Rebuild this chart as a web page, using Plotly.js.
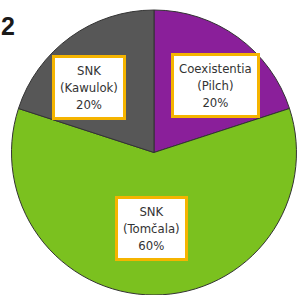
<!DOCTYPE html>
<html>
<head>
<meta charset="utf-8">
<script src="https://cdn.plot.ly/plotly-3.0.1.min.js"></script>
<style>html,body{margin:0;padding:0;background:#fff;}#chart{width:299px;height:295px;}</style>
</head>
<body>
<div id="chart"></div>
<script>
const categories = ["Coexistentia (Pilch)", "SNK (Tomčala)", "SNK (Kawulok)"];
const labelLines = [["Coexistentia", "(Pilch)"], ["SNK", "(Tomčala)"], ["SNK", "(Kawulok)"]];
const shares = [20, 60, 20];
const sliceColors = ["#8A1F9A", "#7BC11F", "#575757"];
const panelLabel = "2";

// label box centers (paper coords)
const labelPos = [[0.720, 0.710], [0.508, 0.225], [0.298, 0.705]];

const annotations = categories.map((c, i) => ({
  xref: "paper", yref: "paper",
  x: labelPos[i][0], y: labelPos[i][1],
  xanchor: "center", yanchor: "middle",
  showarrow: false,
  align: "center",
  text: labelLines[i].join("<br>") + "<br>" + shares[i] + "%",
  font: {family: "DejaVu Sans Condensed, DejaVu Sans", size: 13, color: "#333333"},
  bgcolor: "#FFFFFF",
  bordercolor: "#F5B400",
  borderwidth: 3,
  borderpad: 5
}));
annotations.push({
  xref: "paper", yref: "paper", x: -0.005, y: 0.912,
  xanchor: "left", yanchor: "middle", showarrow: false,
  text: "<b>" + panelLabel + "</b>",
  font: {family: "Liberation Sans", size: 25, color: "#1a1a1a"}
});

Plotly.newPlot("chart", [{
  type: "pie",
  labels: categories,
  values: shares,
  sort: false,
  direction: "clockwise",
  rotation: 0,
  textinfo: "none",
  hoverinfo: "none",
  marker: {colors: sliceColors, line: {color: "#333333", width: 1}},
  domain: {x: [0.035, 0.995], y: [-0.01, 0.966]}
}], {
  width: 299, height: 295,
  margin: {l: 0, r: 0, t: 0, b: 0},
  paper_bgcolor: "#FFFFFF",
  showlegend: false,
  annotations: annotations
}, {staticPlot: true, displayModeBar: false});
</script>
</body>
</html>
